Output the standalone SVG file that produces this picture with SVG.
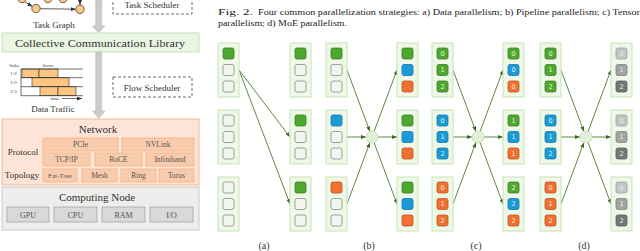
<svg xmlns="http://www.w3.org/2000/svg" width="640" height="251" viewBox="0 0 640 251">
<style>
.serif{font-family:"Liberation Serif","DejaVu Serif",serif;fill:#333}
.ttl{font-size:11px;text-anchor:middle}
.lbl{font-size:9px;text-anchor:middle}
.sm{font-size:7.5px;text-anchor:middle;fill:#555}
.tiny{font-family:"Liberation Serif",serif;font-size:5px;text-anchor:middle;fill:#333}
.dash{fill:#fff;stroke:#444;stroke-width:0.8;stroke-dasharray:3 2}
.pbox{fill:#f8cbad;stroke:#f4b183;stroke-width:0.8}
.cbox{fill:#d9d9d9;stroke:#a5a5a5;stroke-width:0.8}
.bar{fill:#fcc680;stroke:#333;stroke-width:0.6}
.tl{stroke:#333;stroke-width:0.7;fill:none}
.tg{fill:#fbc783;stroke:#404040;stroke-width:0.8}
.garrow{fill:#cbcbcb;stroke:#bdbdbd;stroke-width:0.6}
.stk{fill:#eef7e8;stroke:#c6e5b3;stroke-width:1}
.c{stroke-width:0.8}
.e{fill:#f2f6ee;stroke:#8a8a8a}
.g{fill:#4ea72e;stroke:#3a7d22}
.b{fill:#1a9ad6;stroke:#1578aa}
.o{fill:#ef7030;stroke:#c0561d}
.k1{fill:#c4c4c4;stroke:#a0a0a0}
.k2{fill:#a3a3a3;stroke:#828282}
.k3{fill:#767676;stroke:#5c5c5c}
.n{font-family:"DejaVu Sans",sans-serif;font-size:6.5px;fill:#e8f2e2;text-anchor:middle}
.hub{fill:#e2f0d9;stroke:#c5e0b4;stroke-width:1}
.con line{stroke:#4f7a33;stroke-width:0.9;marker-end:url(#ah)}
.tgl line{stroke:#333;stroke-width:0.8;marker-end:url(#ahk)}
</style>
<defs>
<marker id="ah" markerUnits="userSpaceOnUse" markerWidth="5" markerHeight="4" refX="5" refY="2" orient="auto"><path d="M0,0 L5,2 L0,4 z" fill="#3f6a26"/></marker>
<marker id="ahk" markerUnits="userSpaceOnUse" markerWidth="5" markerHeight="4" refX="5" refY="2" orient="auto"><path d="M0,0 L5,2 L0,4 z" fill="#333"/></marker>
</defs>
<rect width="640" height="251" fill="#fff"/>

<!-- LEFT PANEL -->
<g id="task-graph">
<g class="tgl">
<line x1="25" y1="2" x2="32.5" y2="6.5"/>
<line x1="40.2" y1="8.7" x2="75.8" y2="9.2"/>
<line x1="80" y1="-3" x2="80" y2="5"/>
</g>
<circle class="tg" cx="22" cy="-1.5" r="4.2"/>
<circle class="tg" cx="48" cy="-1.5" r="4.2"/>
<circle class="tg" cx="63" cy="-1.5" r="4.2"/>
<circle class="tg" cx="36" cy="8.5" r="4.2"/>
<circle class="tg" cx="80" cy="9.3" r="4.2"/>
<text class="serif lbl" x="54" y="28">Task Graph</text>
</g>
<g id="task-scheduler">
<rect class="dash" x="113" y="-4" width="79" height="18"/>
<text class="serif lbl" x="152" y="8">Task Scheduler</text>
</g>
<g id="arrow1"><polygon class="garrow" points="95.7,0 101.7,0 101.7,26 105,26 98.7,33 92.4,26 95.7,26"/></g>
<g id="ccl">
<rect x="2" y="33" width="197" height="19" fill="#eaf5e3" stroke="#c6e3b4" stroke-width="1"/>
<text class="serif ttl" x="100" y="46.5" textLength="170" lengthAdjust="spacingAndGlyphs">Collective Communication Library</text>
</g>
<g id="arrow2"><polygon class="garrow" points="95.7,52 101.7,52 101.7,111 105,111 98.7,118.5 92.4,111 95.7,111"/></g>
<g id="data-traffic">
<text class="tiny" x="14" y="67">links</text>
<text class="tiny" x="48" y="67">flows</text>
<text class="tiny" x="13.5" y="75">1-2</text>
<text class="tiny" x="13.5" y="84">1-3</text>
<text class="tiny" x="13.5" y="93">2-3</text>
<rect class="bar" x="22" y="69" width="17" height="8.7"/>
<rect class="bar" x="39" y="69" width="19" height="8.7"/>
<rect class="bar" x="32" y="77.7" width="37" height="9"/>
<rect class="bar" x="40" y="86.7" width="18" height="9"/>
<rect class="bar" x="58" y="86.7" width="18" height="9"/>
<path class="tl" d="M21,69 H83 M21,77.7 H83 M21,86.7 H83 M21,95.7 H83 M21,69 V95.7"/>
<text class="tiny" x="55" y="100">time</text>
<line x1="62" y1="98.5" x2="82" y2="98.5" stroke="#333" stroke-width="0.7" marker-end="url(#ahk)"/>
<text class="serif lbl" x="53" y="112">Data Traffic</text>
</g>
<g id="flow-scheduler">
<rect class="dash" x="113" y="77" width="79" height="20"/>
<text class="serif lbl" x="152" y="90.5">Flow Scheduler</text>
</g>
<g id="network">
<rect x="2" y="119" width="197" height="66" fill="#fce4d6" stroke="#f4b894" stroke-width="1"/>
<text class="serif ttl" x="98" y="133">Network</text>
<text class="serif lbl" x="23" y="155">Protocol</text>
<text class="serif lbl" x="22" y="178">Topology</text>
<rect class="pbox" x="43" y="138" width="75" height="13"/><text class="serif sm" x="80.5" y="147.3">PCIe</text>
<rect class="pbox" x="122" y="138" width="72" height="13"/><text class="serif sm" x="158" y="147.3">NVLink</text>
<rect class="pbox" x="43" y="153" width="47" height="13"/><text class="serif sm" x="66.5" y="162.3">TCP/IP</text>
<rect class="pbox" x="95" y="153" width="47" height="13"/><text class="serif sm" x="118.5" y="162.3">RoCE</text>
<rect class="pbox" x="146" y="153" width="48" height="13"/><text class="serif sm" x="170" y="162.3">Infiniband</text>
<rect class="pbox" x="43" y="169" width="34" height="13"/><text class="serif sm" x="60" y="178.3" style="font-size:7px">Fat-Tree</text>
<rect class="pbox" x="82" y="169" width="35" height="13"/><text class="serif sm" x="99.5" y="178.3">Mesh</text>
<rect class="pbox" x="121" y="169" width="35" height="13"/><text class="serif sm" x="138.5" y="178.3">Ring</text>
<rect class="pbox" x="159" y="169" width="35" height="13"/><text class="serif sm" x="176.5" y="178.3">Torus</text>
</g>
<g id="computing-node">
<rect x="2" y="187" width="197" height="43" fill="#ededed" stroke="#c9c9c9" stroke-width="1"/>
<text class="serif ttl" x="97" y="200.5">Computing Node</text>
<rect class="cbox" x="7" y="207" width="42" height="15"/><text class="serif sm" x="28" y="217.5" style="font-size:8px">GPU</text>
<rect class="cbox" x="54" y="207" width="43" height="15"/><text class="serif sm" x="75.5" y="217.5" style="font-size:8px">CPU</text>
<rect class="cbox" x="102" y="207" width="43" height="15"/><text class="serif sm" x="123.5" y="217.5" style="font-size:8px">RAM</text>
<rect class="cbox" x="150" y="207" width="43" height="15"/><text class="serif sm" x="171.5" y="217.5" style="font-size:8px">I/O</text>
</g>

<!-- CAPTION -->
<g id="caption" class="serif" style="font-size:9.2px;fill:#222">
<text x="218" y="15" textLength="35" lengthAdjust="spacingAndGlyphs">Fig. 2.</text>
<text x="258" y="15" textLength="382" lengthAdjust="spacingAndGlyphs">Four common parallelization strategies: a) Data parallelism; b) Pipeline parallelism; c) Tensor</text>
<text x="218" y="25.5" textLength="129" lengthAdjust="spacingAndGlyphs">parallelism; d) MoE parallelism.</text>
</g>

<!-- CONNECTORS -->
<g id="connectors" class="con">
<line x1="239" y1="70" x2="290" y2="137"/>
<line x1="239" y1="70" x2="290" y2="204"/>
<line x1="347" y1="70" x2="369.9" y2="131.4"/>
<line x1="347" y1="137" x2="366" y2="137"/>
<line x1="347" y1="204" x2="369.9" y2="142.6"/>
<line x1="374.1" y1="131.4" x2="397" y2="70"/>
<line x1="378" y1="137" x2="397" y2="137"/>
<line x1="374.1" y1="142.6" x2="397" y2="204"/>
<line x1="453" y1="70" x2="475.9" y2="131.4"/>
<line x1="453" y1="137" x2="472" y2="137"/>
<line x1="453" y1="204" x2="475.9" y2="142.6"/>
<line x1="480.1" y1="131.4" x2="503" y2="70"/>
<line x1="484" y1="137" x2="503" y2="137"/>
<line x1="480.1" y1="142.6" x2="503" y2="204"/>
<line x1="561" y1="70" x2="583.9" y2="131.4"/>
<line x1="561" y1="137" x2="580" y2="137"/>
<line x1="561" y1="204" x2="583.9" y2="142.6"/>
<line x1="588.1" y1="131.4" x2="611" y2="70"/>
<line x1="592" y1="137" x2="611" y2="137"/>
<line x1="588.1" y1="142.6" x2="611" y2="204"/>
</g>

<!-- HUBS -->
<circle id="hub-b" class="hub" cx="372" cy="137" r="6"/>
<circle id="hub-c" class="hub" cx="478" cy="137" r="6"/>
<circle id="hub-d" class="hub" cx="586" cy="137" r="6"/>

<!-- STACKS (a) -->
<g id="a-l1" transform="translate(218,43)"><rect class="stk" width="21" height="54"/><rect class="c g" x="5" y="5" width="11" height="11" rx="2"/><rect class="c e" x="5" y="21.5" width="11" height="11" rx="2"/><rect class="c e" x="5" y="38" width="11" height="11" rx="2"/></g>
<g id="a-l2" transform="translate(218,110)"><rect class="stk" width="21" height="54"/><rect class="c e" x="5" y="5" width="11" height="11" rx="2"/><rect class="c e" x="5" y="21.5" width="11" height="11" rx="2"/><rect class="c e" x="5" y="38" width="11" height="11" rx="2"/></g>
<g id="a-l3" transform="translate(218,177)"><rect class="stk" width="21" height="54"/><rect class="c e" x="5" y="5" width="11" height="11" rx="2"/><rect class="c e" x="5" y="21.5" width="11" height="11" rx="2"/><rect class="c e" x="5" y="38" width="11" height="11" rx="2"/></g>
<g id="a-r1" transform="translate(290,43)"><rect class="stk" width="21" height="54"/><rect class="c g" x="5" y="5" width="11" height="11" rx="2"/><rect class="c e" x="5" y="21.5" width="11" height="11" rx="2"/><rect class="c e" x="5" y="38" width="11" height="11" rx="2"/></g>
<g id="a-r2" transform="translate(290,110)"><rect class="stk" width="21" height="54"/><rect class="c g" x="5" y="5" width="11" height="11" rx="2"/><rect class="c e" x="5" y="21.5" width="11" height="11" rx="2"/><rect class="c e" x="5" y="38" width="11" height="11" rx="2"/></g>
<g id="a-r3" transform="translate(290,177)"><rect class="stk" width="21" height="54"/><rect class="c g" x="5" y="5" width="11" height="11" rx="2"/><rect class="c e" x="5" y="21.5" width="11" height="11" rx="2"/><rect class="c e" x="5" y="38" width="11" height="11" rx="2"/></g>

<!-- STACKS (b) -->
<g id="b-l1" transform="translate(326,43)"><rect class="stk" width="21" height="54"/><rect class="c g" x="5" y="5" width="11" height="11" rx="2"/><rect class="c e" x="5" y="21.5" width="11" height="11" rx="2"/><rect class="c e" x="5" y="38" width="11" height="11" rx="2"/></g>
<g id="b-l2" transform="translate(326,110)"><rect class="stk" width="21" height="54"/><rect class="c b" x="5" y="5" width="11" height="11" rx="2"/><rect class="c e" x="5" y="21.5" width="11" height="11" rx="2"/><rect class="c e" x="5" y="38" width="11" height="11" rx="2"/></g>
<g id="b-l3" transform="translate(326,177)"><rect class="stk" width="21" height="54"/><rect class="c o" x="5" y="5" width="11" height="11" rx="2"/><rect class="c e" x="5" y="21.5" width="11" height="11" rx="2"/><rect class="c e" x="5" y="38" width="11" height="11" rx="2"/></g>
<g id="b-r1" transform="translate(397,43)"><rect class="stk" width="21" height="54"/><rect class="c g" x="5" y="5" width="11" height="11" rx="2"/><rect class="c b" x="5" y="21.5" width="11" height="11" rx="2"/><rect class="c o" x="5" y="38" width="11" height="11" rx="2"/></g>
<g id="b-r2" transform="translate(397,110)"><rect class="stk" width="21" height="54"/><rect class="c g" x="5" y="5" width="11" height="11" rx="2"/><rect class="c b" x="5" y="21.5" width="11" height="11" rx="2"/><rect class="c o" x="5" y="38" width="11" height="11" rx="2"/></g>
<g id="b-r3" transform="translate(397,177)"><rect class="stk" width="21" height="54"/><rect class="c g" x="5" y="5" width="11" height="11" rx="2"/><rect class="c b" x="5" y="21.5" width="11" height="11" rx="2"/><rect class="c o" x="5" y="38" width="11" height="11" rx="2"/></g>

<!-- STACKS (c) -->
<g id="c-l1" transform="translate(432,43)"><rect class="stk" width="21" height="54"/><rect class="c g" x="5" y="5" width="11" height="11" rx="2"/><rect class="c g" x="5" y="21.5" width="11" height="11" rx="2"/><rect class="c g" x="5" y="38" width="11" height="11" rx="2"/><text class="n" x="10.5" y="12.8">0</text><text class="n" x="10.5" y="29.3">1</text><text class="n" x="10.5" y="45.8">2</text></g>
<g id="c-l2" transform="translate(432,110)"><rect class="stk" width="21" height="54"/><rect class="c b" x="5" y="5" width="11" height="11" rx="2"/><rect class="c b" x="5" y="21.5" width="11" height="11" rx="2"/><rect class="c b" x="5" y="38" width="11" height="11" rx="2"/><text class="n" x="10.5" y="12.8">0</text><text class="n" x="10.5" y="29.3">1</text><text class="n" x="10.5" y="45.8">2</text></g>
<g id="c-l3" transform="translate(432,177)"><rect class="stk" width="21" height="54"/><rect class="c o" x="5" y="5" width="11" height="11" rx="2"/><rect class="c o" x="5" y="21.5" width="11" height="11" rx="2"/><rect class="c o" x="5" y="38" width="11" height="11" rx="2"/><text class="n" x="10.5" y="12.8">0</text><text class="n" x="10.5" y="29.3">1</text><text class="n" x="10.5" y="45.8">2</text></g>
<g id="c-r1" transform="translate(503,43)"><rect class="stk" width="21" height="54"/><rect class="c g" x="5" y="5" width="11" height="11" rx="2"/><rect class="c b" x="5" y="21.5" width="11" height="11" rx="2"/><rect class="c o" x="5" y="38" width="11" height="11" rx="2"/><text class="n" x="10.5" y="12.8">0</text><text class="n" x="10.5" y="29.3">0</text><text class="n" x="10.5" y="45.8">0</text></g>
<g id="c-r2" transform="translate(503,110)"><rect class="stk" width="21" height="54"/><rect class="c g" x="5" y="5" width="11" height="11" rx="2"/><rect class="c b" x="5" y="21.5" width="11" height="11" rx="2"/><rect class="c o" x="5" y="38" width="11" height="11" rx="2"/><text class="n" x="10.5" y="12.8">1</text><text class="n" x="10.5" y="29.3">1</text><text class="n" x="10.5" y="45.8">1</text></g>
<g id="c-r3" transform="translate(503,177)"><rect class="stk" width="21" height="54"/><rect class="c g" x="5" y="5" width="11" height="11" rx="2"/><rect class="c b" x="5" y="21.5" width="11" height="11" rx="2"/><rect class="c o" x="5" y="38" width="11" height="11" rx="2"/><text class="n" x="10.5" y="12.8">2</text><text class="n" x="10.5" y="29.3">2</text><text class="n" x="10.5" y="45.8">2</text></g>

<!-- STACKS (d) -->
<g id="d-l1" transform="translate(540,43)"><rect class="stk" width="21" height="54"/><rect class="c g" x="5" y="5" width="11" height="11" rx="2"/><rect class="c g" x="5" y="21.5" width="11" height="11" rx="2"/><rect class="c g" x="5" y="38" width="11" height="11" rx="2"/><text class="n" x="10.5" y="12.8">0</text><text class="n" x="10.5" y="29.3">1</text><text class="n" x="10.5" y="45.8">2</text></g>
<g id="d-l2" transform="translate(540,110)"><rect class="stk" width="21" height="54"/><rect class="c b" x="5" y="5" width="11" height="11" rx="2"/><rect class="c b" x="5" y="21.5" width="11" height="11" rx="2"/><rect class="c b" x="5" y="38" width="11" height="11" rx="2"/><text class="n" x="10.5" y="12.8">0</text><text class="n" x="10.5" y="29.3">1</text><text class="n" x="10.5" y="45.8">2</text></g>
<g id="d-l3" transform="translate(540,177)"><rect class="stk" width="21" height="54"/><rect class="c o" x="5" y="5" width="11" height="11" rx="2"/><rect class="c o" x="5" y="21.5" width="11" height="11" rx="2"/><rect class="c o" x="5" y="38" width="11" height="11" rx="2"/><text class="n" x="10.5" y="12.8">0</text><text class="n" x="10.5" y="29.3">1</text><text class="n" x="10.5" y="45.8">2</text></g>
<g id="d-r1" transform="translate(611,43)"><rect class="stk" width="21" height="54"/><rect class="c k1" x="5" y="5" width="11" height="11" rx="2"/><rect class="c k2" x="5" y="21.5" width="11" height="11" rx="2"/><rect class="c k3" x="5" y="38" width="11" height="11" rx="2"/><text class="n" x="10.5" y="12.8">0</text><text class="n" x="10.5" y="29.3">1</text><text class="n" x="10.5" y="45.8">2</text></g>
<g id="d-r2" transform="translate(611,110)"><rect class="stk" width="21" height="54"/><rect class="c k1" x="5" y="5" width="11" height="11" rx="2"/><rect class="c k2" x="5" y="21.5" width="11" height="11" rx="2"/><rect class="c k3" x="5" y="38" width="11" height="11" rx="2"/><text class="n" x="10.5" y="12.8">0</text><text class="n" x="10.5" y="29.3">1</text><text class="n" x="10.5" y="45.8">2</text></g>
<g id="d-r3" transform="translate(611,177)"><rect class="stk" width="21" height="54"/><rect class="c k1" x="5" y="5" width="11" height="11" rx="2"/><rect class="c k2" x="5" y="21.5" width="11" height="11" rx="2"/><rect class="c k3" x="5" y="38" width="11" height="11" rx="2"/><text class="n" x="10.5" y="12.8">0</text><text class="n" x="10.5" y="29.3">1</text><text class="n" x="10.5" y="45.8">2</text></g>

<!-- SUB LABELS -->
<g id="sublabels" class="serif lbl" style="font-size:10px">
<text x="264" y="249">(a)</text>
<text x="369" y="249">(b)</text>
<text x="476" y="249">(c)</text>
<text x="584" y="249">(d)</text>
</g>
</svg>
